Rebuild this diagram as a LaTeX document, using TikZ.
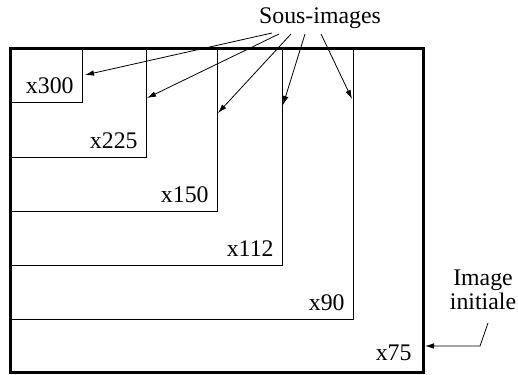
\documentclass[tikz,border=0pt]{standalone}
\usepackage{fontspec}
\setmainfont{Liberation Serif}
\usetikzlibrary{arrows.meta}

\tikzset{
    pointer/.style={-{Latex[length=4.5pt,width=2.8pt]},line width=0.4pt},
    zoomlabel/.style={anchor=south east,inner sep=4pt}
}

\begin{document}
\begin{tikzpicture}[x=0.5pt,y=-0.5pt,font=\fontsize{11.9}{10}\selectfont]
        \useasboundingbox (0,0) rectangle (518,374);
        \coordinate (o) at (10,49);

        % sous-images, same top left corner
        \foreach \r/\b/\t in {82/102/300,146/157/225,217/211/150,282/265/112,353/319/90}
            \draw[line width=0.45pt] (o) rectangle (\r,\b) node[zoomlabel] (x\t) {x\t};
        \draw[line width=1.5pt] (o) rectangle (423,372) node[zoomlabel,inner sep=5pt] (x75) {x75};

        \node (sous) at (320,18) {Sous-images};
        \coordinate (s300) at (272,33);
        \coordinate (s225) at (279,34);
        \coordinate (s150) at (291,34);
        \coordinate (s112) at (305,34);
        \coordinate (s90) at (321,34);
        \coordinate (e300) at (85,75);
        \coordinate (e225) at (147,98);
        \coordinate (e150) at (218,113);
        \coordinate (e112) at (283,105);
        \coordinate (e90) at (352,99);
        \foreach \t in {300,225,150,112,90}
            \draw[pointer] (s\t) -- (e\t);

        \node[align=center] (init) at (483,290) {Image\\initiale};
        \coordinate (i1) at (488,323);
        \coordinate (i2) at (480,346);
        \coordinate (i3) at (425,346);
        \draw[pointer] (i1) -- (i2) -- (i3);
    \end{tikzpicture}
\end{document}
